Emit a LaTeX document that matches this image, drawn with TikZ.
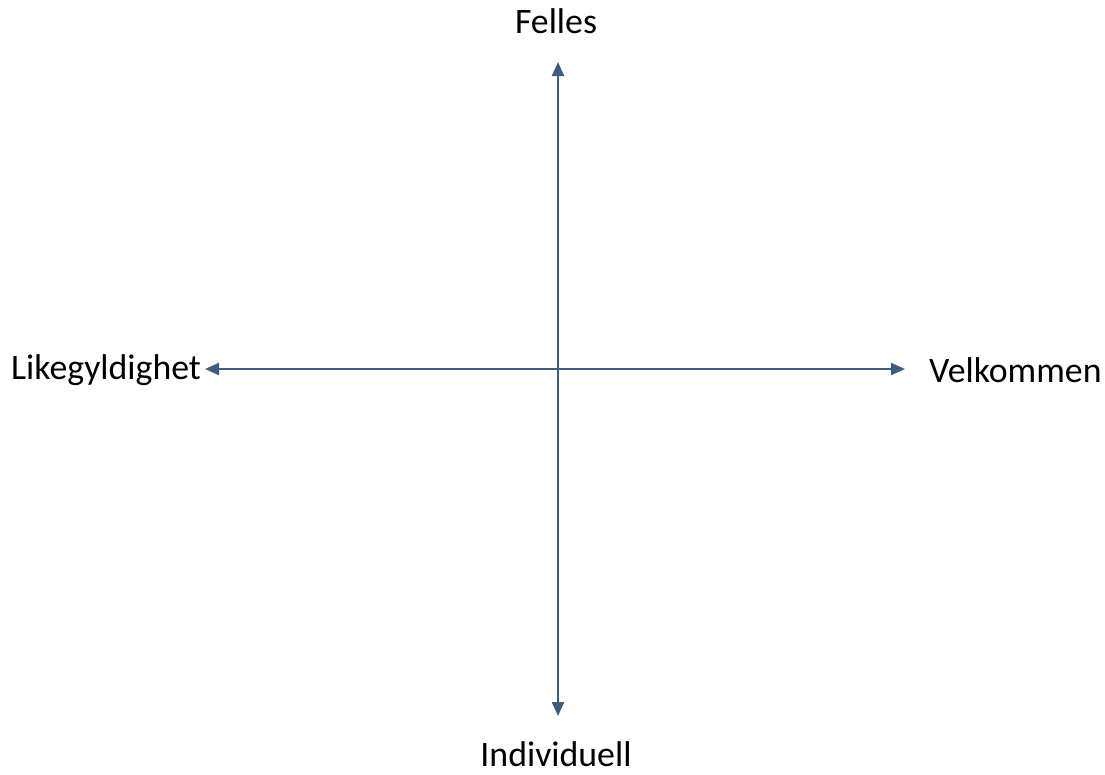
\documentclass[tikz,border=0pt]{standalone}
\usepackage{fontspec}
\setmainfont{Carlito}
\usetikzlibrary{arrows.meta,positioning}
\definecolor{axisblue}{RGB}{62,92,125}

\begin{document}
\begin{tikzpicture}[
  x=1pt, y=-1pt,
  label/.style={font=\fontsize{35.8}{40}\selectfont, inner sep=0pt},
  axis/.style={{Triangle[length=14pt,width=12pt]}-{Triangle[length=14pt,width=12pt]}, line width=2.2pt, draw=axisblue, fill=axisblue}
]
\useasboundingbox (0,0) rectangle (1105,774);
\coordinate (top) at (558,62);
\coordinate (bottom) at (558,716);
\coordinate (left) at (205,369);
\coordinate (right) at (905,369);
\node[label, anchor=base] (felles) at (556,33) {Felles};
\node[label, anchor=base] (individuell) at (556,766) {Individuell};
\node[label, anchor=base west] (likegyldighet) at (11,379) {Likegyldighet};
\node[label, anchor=base west] (velkommen) at (929,382) {Velkommen};
\draw[axis] (top) -- (bottom);
\draw[axis] (left) -- (right);
\end{tikzpicture}
\end{document}
